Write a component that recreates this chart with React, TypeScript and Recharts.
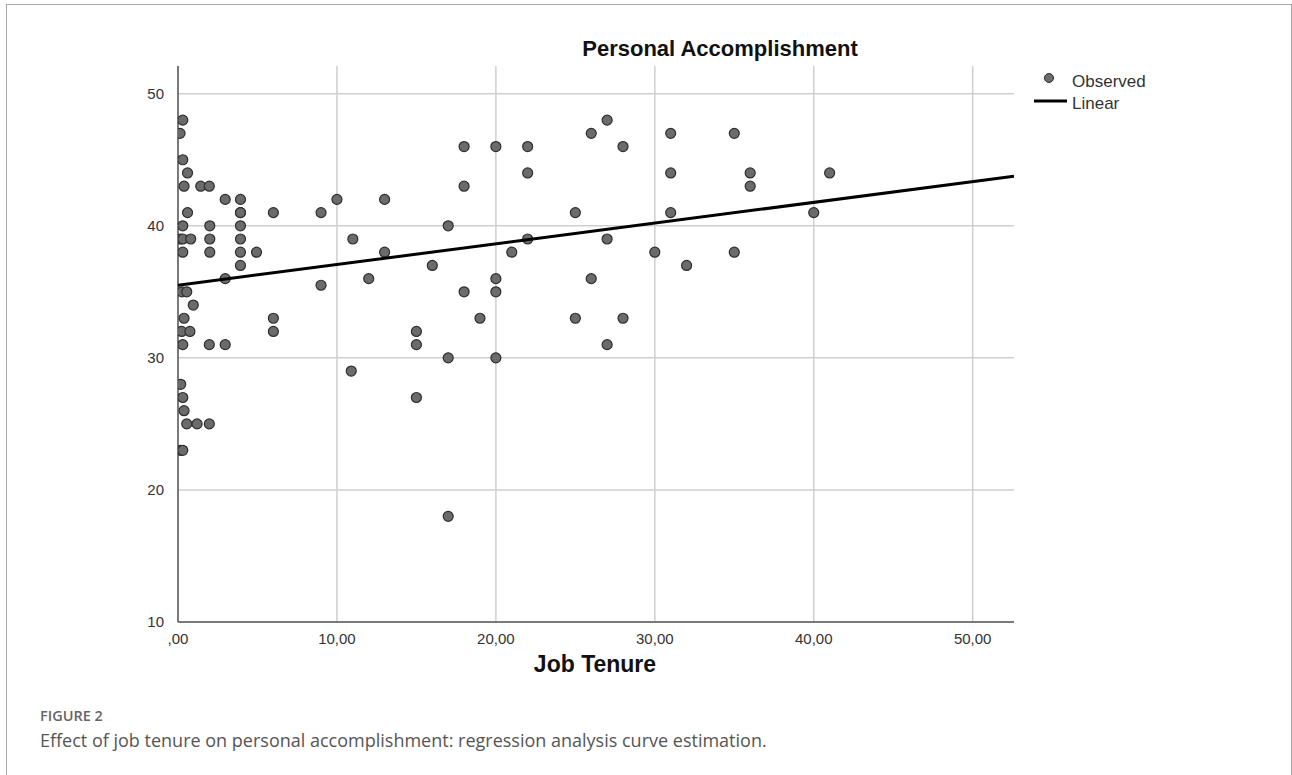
import React from "react";
import { ScatterChart, Scatter, XAxis, YAxis, CartesianGrid } from "recharts";

// job tenure (years) and personal accomplishment score
const tenure = [
  0.13, 0.3, 0.3, 0.6, 0.38, 1.43, 1.97, 2.97, 3.93, 0.6, 3.93, 3.93, 6, 9, 10,
  0.3, 2, 3.93, 0.17, 0.3, 0.8, 2, 3.93, 0.3, 2, 3.93, 4.94, 3.93, 2.97,
  9, 0.25, 0.55, 0.96, 0.38, 0.23, 0.75, 0.3, 1.97, 2.97, 6, 6, 10.9, 0.17, 0.3,
  0.38, 0.55, 1.2, 1.97, 0.17, 0.3,
  13, 11, 13, 12, 16, 17, 18, 20, 22, 18, 22, 22, 21, 20, 20, 18, 19, 15, 15,
  15, 17, 17, 20,
  27, 26, 28, 31, 35, 31, 36, 36, 41, 25, 31, 40, 27, 30, 35, 32, 26, 25, 28, 27,
];
const accomplishment = [
  47, 48, 45, 44, 43, 43, 43, 42, 42, 41, 41, 41, 41, 41, 42,
  40, 40, 40, 39, 39, 39, 39, 39, 38, 38, 38, 38, 37, 36,
  35.5, 35, 35, 34, 33, 32, 32, 31, 31, 31, 33, 32, 29, 28, 27,
  26, 25, 25, 25, 23, 23,
  42, 39, 38, 36, 37, 40, 46, 46, 46, 43, 44, 39, 38, 36, 35, 35, 33, 32, 31,
  27, 30, 18, 30,
  48, 47, 46, 47, 47, 44, 44, 43, 44, 41, 41, 41, 39, 38, 38, 37, 36, 33, 33, 31,
];

// fitted linear line, from the left to the right edge of the plot
const fitX = [0, 52.6];
const fitY = [35.5, 43.75];

const xTicks = [0, 10, 20, 30, 40, 50];
const yTicks = [10, 20, 30, 40, 50];

const observed = tenure.map((x, i) => ({ x, y: accomplishment[i] }));
const linear = fitX.map((x, i) => ({ x, y: fitY[i] }));

const chartFont = "'Liberation Sans', Arial, sans-serif";

const Dot = (p: any) => (
  <circle cx={p.cx} cy={p.cy} r={5} fill="#6b6b6b" stroke="#2e2e2e" strokeWidth={1.2} />
);

export default function App() {
  return (
    <div style={{ position: "absolute", left: 0, top: 0, width: 1292, height: 775, overflow: "hidden", background: "#fff" }}>
      <div style={{ position: "absolute", left: 6, top: 4, width: 1284, height: 820, border: "1px solid #a8a8a8" }} />
      <ScatterChart
        width={1292}
        height={775}
        margin={{ top: 66, right: 278, bottom: 123, left: 118 }}
        style={{ position: "absolute", left: 0, top: 0 }}
      >
        <CartesianGrid stroke="#cfcfcf" strokeWidth={1.5} horizontalValues={yTicks} verticalValues={xTicks} />
        <XAxis
          type="number"
          dataKey="x"
          domain={[0, 52.6]}
          ticks={xTicks}
          allowDataOverflow
          tickLine={false}
          axisLine={{ stroke: "#5a5a5a", strokeWidth: 1.5 }}
          tick={{ fill: "#333", fontSize: 15, fontFamily: chartFont }}
          tickMargin={5}
          tickFormatter={(v: number) => (v === 0 ? ",00" : `${v},00`)}
          height={30}
        />
        <YAxis
          type="number"
          dataKey="y"
          domain={[10, 52.1]}
          ticks={yTicks}
          allowDataOverflow
          tickLine={false}
          axisLine={{ stroke: "#5a5a5a", strokeWidth: 1.5 }}
          tick={{ fill: "#333", fontSize: 15, fontFamily: chartFont }}
          tickMargin={8}
          width={60}
        />
        <Scatter data={observed} shape={Dot} isAnimationActive={false} />
        <Scatter
          data={linear}
          line={{ stroke: "#000", strokeWidth: 3 }}
          shape={() => <g />}
          isAnimationActive={false}
        />
        <text x={720} y={56} textAnchor="middle" fontFamily={chartFont} fontWeight="bold" fontSize={22} fill="#111">
          Personal Accomplishment
        </text>
        <text x={595} y={672} textAnchor="middle" fontFamily={chartFont} fontWeight="bold" fontSize={23} fill="#111">
          Job Tenure
        </text>
        <circle cx={1049} cy={78} r={4.5} fill="#6b6b6b" stroke="#2e2e2e" strokeWidth={1} />
        <text x={1072} y={87} fontFamily={chartFont} fontSize={17} fill="#333">Observed</text>
        <line x1={1034} y1={101} x2={1067} y2={101} stroke="#000" strokeWidth={3} />
        <text x={1072} y={109} fontFamily={chartFont} fontSize={17} fill="#333">Linear</text>
      </ScatterChart>
      <div style={{ position: "absolute", left: 40, top: 706, fontFamily: "'Open Sans', sans-serif", fontSize: 14.5, fontWeight: 600, color: "#666" }}>
        FIGURE 2
      </div>
      <div style={{ position: "absolute", left: 40, top: 728, fontFamily: "'Open Sans', sans-serif", fontSize: 18, color: "#555" }}>
        Effect of job tenure on personal accomplishment: regression analysis curve estimation.
      </div>
    </div>
  );
}
